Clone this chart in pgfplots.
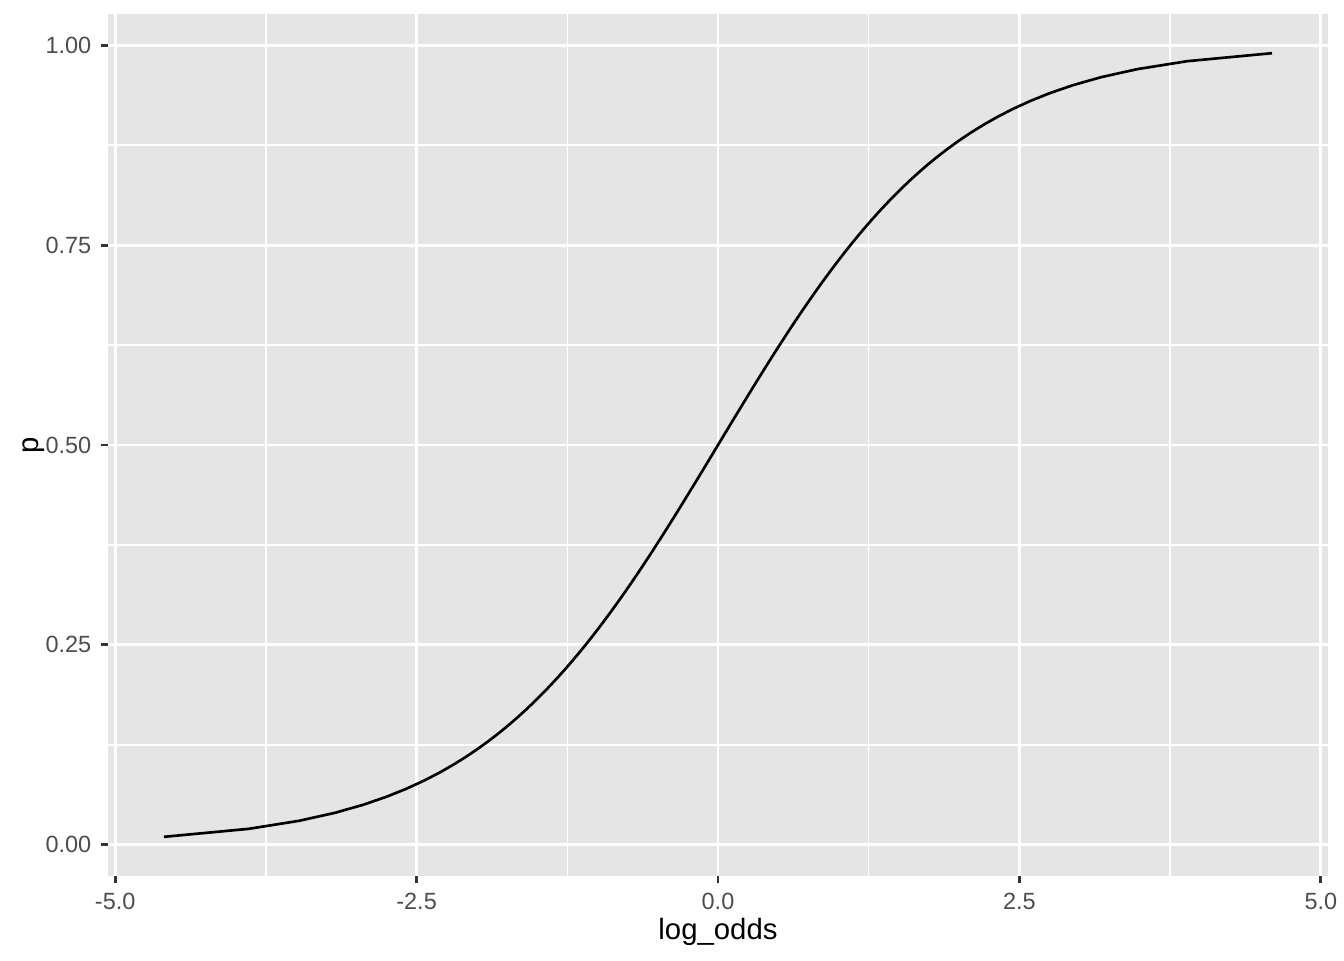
\documentclass[border=0pt]{standalone}
\usepackage{fontspec}
\setmainfont{Liberation Sans}
\usepackage{pgfplots}
\pgfplotsset{compat=1.18}
\definecolor{panelgrey}{HTML}{E5E5E5}
\definecolor{tickgrey}{HTML}{333333}
\definecolor{labelgrey}{HTML}{4D4D4D}

\begin{document}
\begin{tikzpicture}
\path[use as bounding box] (-40.5pt,-31.5pt) rectangle (463.5pt,328.5pt);
\begin{axis}[
    at={(0,0)}, anchor=south west,
    scale only axis,
    width=457.5pt, height=323.25pt,
    xmin=-5.0595, xmax=5.0595,
    ymin=-0.039, ymax=1.039,
    axis background/.style={fill=panelgrey},
    axis line style={draw=none},
    xtick={-5,-2.5,0,2.5,5},
    ytick={0,0.25,0.5,0.75,1},
    minor xtick={-3.75,-1.25,1.25,3.75},
    minor ytick={0.125,0.375,0.625,0.875},
    grid=both,
    major grid style={white, line width=1.07pt},
    minor grid style={white, line width=0.53pt},
    tick align=outside,
    major tick length=2.75pt,
    minor tick length=0pt,
    tick style={tickgrey, line width=1.07pt},
    xtick pos=bottom, ytick pos=left,
    /pgf/number format/assume math mode=true,
    xticklabel style={/pgf/number format/.cd, fixed, fixed zerofill, precision=1},
    yticklabel style={/pgf/number format/.cd, fixed, fixed zerofill, precision=2},
    ticklabel style={font=\fontsize{8.8}{10}\selectfont, text=labelgrey},
    label style={font=\fontsize{11}{13}\selectfont, text=black},
    xlabel={log\_odds},
    ylabel={p},
    xlabel style={at={(axis description cs:0.5,0)}, anchor=center, yshift=-21pt},
    ylabel style={at={(axis description cs:0,0.5)}, anchor=center, yshift=28pt},
]
\addplot[black, line width=1.0pt] coordinates {
(-4.5951,0.01)(-3.8918,0.02)(-3.4761,0.03)(-3.1781,0.04)(-2.9444,0.05)
(-2.7515,0.06)(-2.5867,0.07)(-2.4423,0.08)(-2.3136,0.09)(-2.1972,0.10)
(-2.0907,0.11)(-1.9924,0.12)(-1.9010,0.13)(-1.8153,0.14)(-1.7346,0.15)
(-1.6582,0.16)(-1.5856,0.17)(-1.5163,0.18)(-1.4500,0.19)(-1.3863,0.20)
(-1.3249,0.21)(-1.2657,0.22)(-1.2083,0.23)(-1.1527,0.24)(-1.0986,0.25)
(-1.0460,0.26)(-0.9946,0.27)(-0.9445,0.28)(-0.8954,0.29)(-0.8473,0.30)
(-0.8001,0.31)(-0.7538,0.32)(-0.7082,0.33)(-0.6633,0.34)(-0.6190,0.35)
(-0.5754,0.36)(-0.5322,0.37)(-0.4895,0.38)(-0.4473,0.39)(-0.4055,0.40)
(-0.3640,0.41)(-0.3228,0.42)(-0.2819,0.43)(-0.2412,0.44)(-0.2007,0.45)
(-0.1603,0.46)(-0.1201,0.47)(-0.0800,0.48)(-0.0400,0.49)(0,0.50)
(0.0400,0.51)(0.0800,0.52)(0.1201,0.53)(0.1603,0.54)(0.2007,0.55)
(0.2412,0.56)(0.2819,0.57)(0.3228,0.58)(0.3640,0.59)(0.4055,0.60)
(0.4473,0.61)(0.4895,0.62)(0.5322,0.63)(0.5754,0.64)(0.6190,0.65)
(0.6633,0.66)(0.7082,0.67)(0.7538,0.68)(0.8001,0.69)(0.8473,0.70)
(0.8954,0.71)(0.9445,0.72)(0.9946,0.73)(1.0460,0.74)(1.0986,0.75)
(1.1527,0.76)(1.2083,0.77)(1.2657,0.78)(1.3249,0.79)(1.3863,0.80)
(1.4500,0.81)(1.5163,0.82)(1.5856,0.83)(1.6582,0.84)(1.7346,0.85)
(1.8153,0.86)(1.9010,0.87)(1.9924,0.88)(2.0907,0.89)(2.1972,0.90)
(2.3136,0.91)(2.4423,0.92)(2.5867,0.93)(2.7515,0.94)(2.9444,0.95)
(3.1781,0.96)(3.4761,0.97)(3.8918,0.98)(4.5951,0.99)
};
\end{axis}
\end{tikzpicture}
\end{document}
